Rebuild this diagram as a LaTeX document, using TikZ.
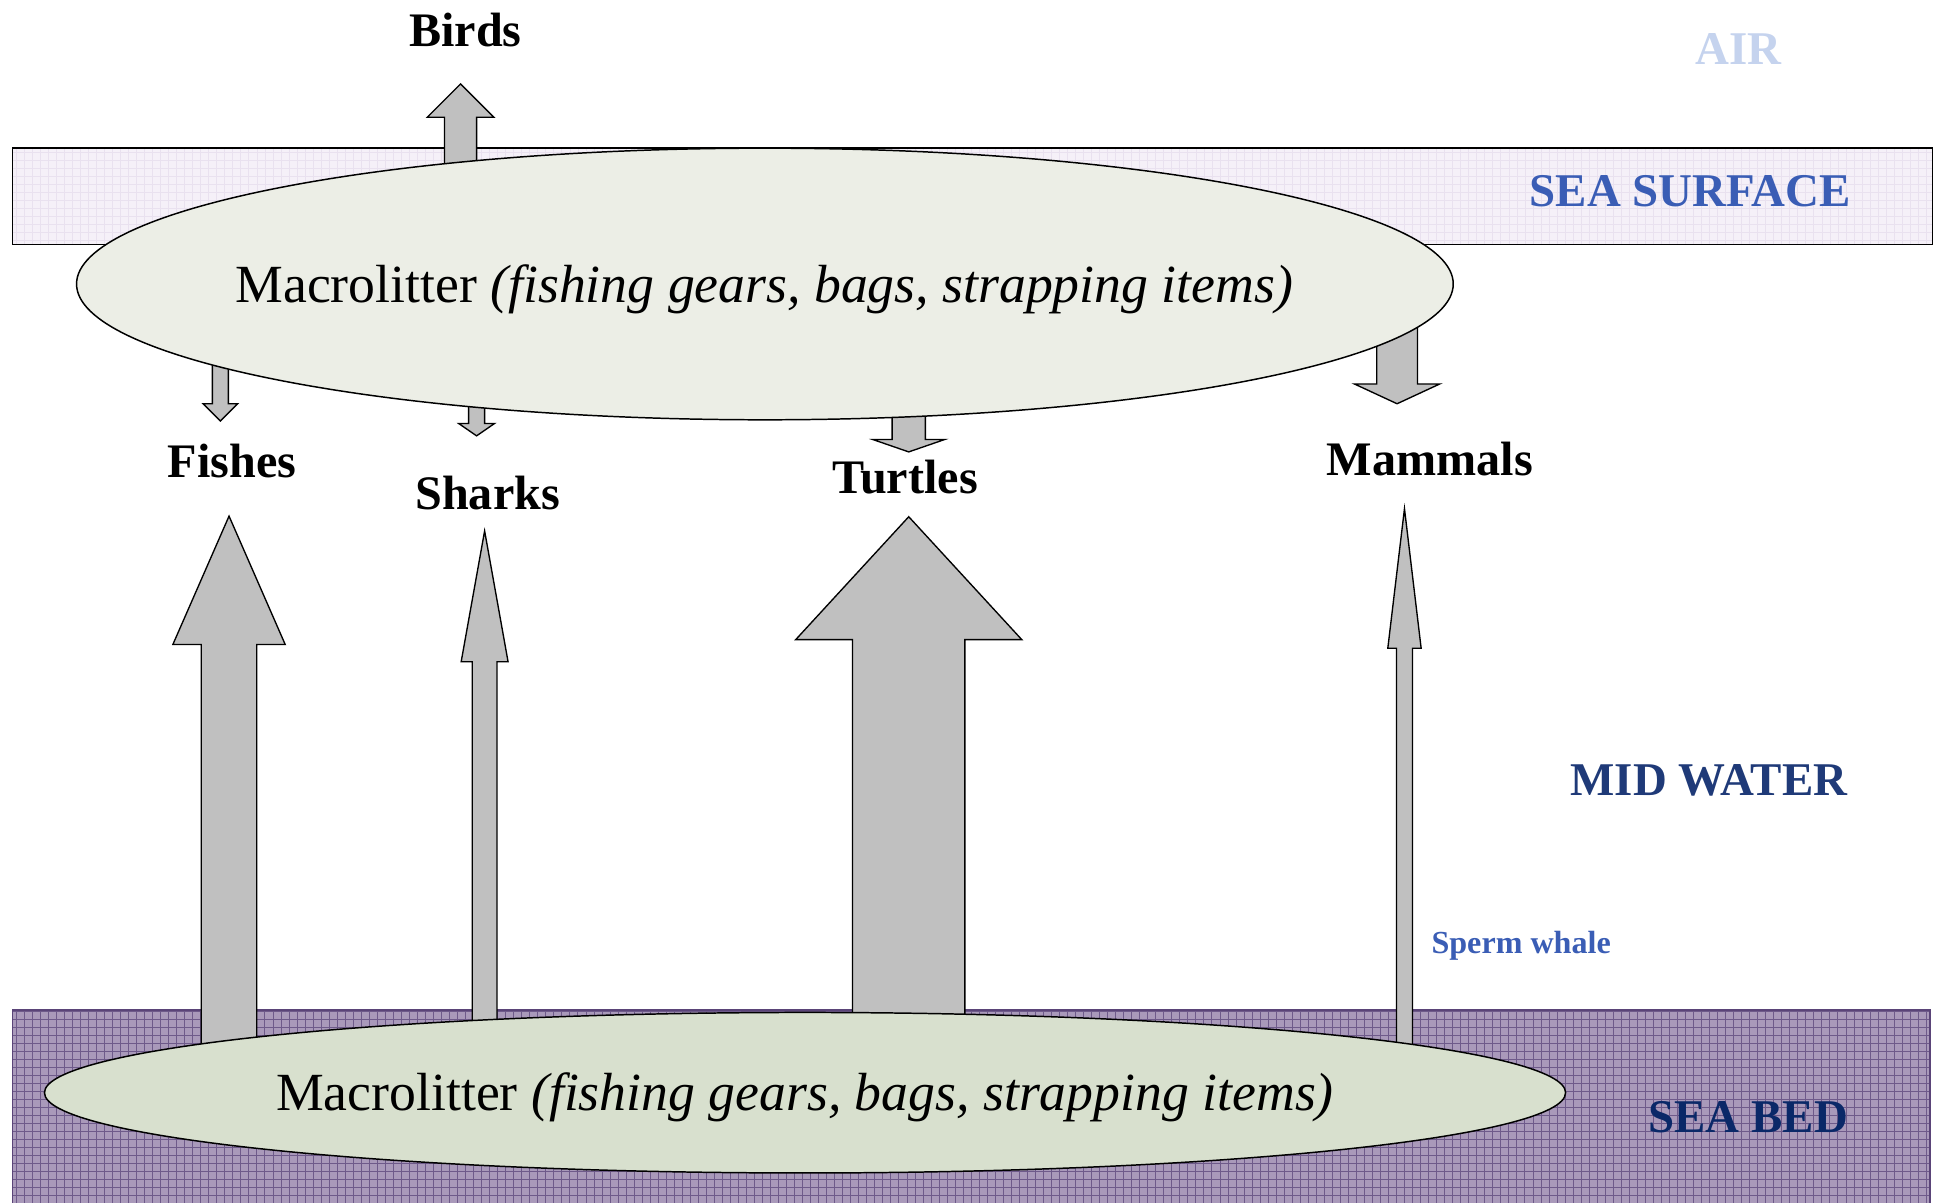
\documentclass[tikz,border=0pt]{standalone}
\usepackage{fontspec}
\setmainfont{Liberation Serif}
\usetikzlibrary{shapes.geometric}
\definecolor{surffill}{HTML}{F5F0F8}
\definecolor{surfgrid}{HTML}{E9E1EF}
\definecolor{bedfill}{HTML}{A999BA}
\definecolor{bedgrid}{HTML}{6E5A8A}
\definecolor{bedborder}{HTML}{5A4478}
\definecolor{ellA}{HTML}{ECEEE6}
\definecolor{ellB}{HTML}{D8E0CE}
\definecolor{arrfill}{HTML}{C0C0C0}
\definecolor{airblue}{HTML}{C5D3EE}
\definecolor{surfblue}{HTML}{3A5DB5}
\definecolor{midnavy}{HTML}{1F3A78}
\definecolor{bednavy}{HTML}{0A2868}
\newcommand\blockup[6]{% cx, shaft half, head half, tip y, base y, bottom y
  \filldraw[blockarr] ({#1-#2},#6) -- ({#1-#2},#5) -- ({#1-#3},#5) -- (#1,#4)
    -- ({#1+#3},#5) -- ({#1+#2},#5) -- ({#1+#2},#6) -- cycle;}
\begin{document}
\begin{tikzpicture}[x=1pt,y=-1pt,
  blockarr/.style={fill=arrfill,draw=black,line width=1.1pt,line join=miter},
  animal/.style={font=\fontsize{39}{39}\selectfont\bfseries,inner sep=0pt},
  zone/.style={font=\fontsize{38}{38}\selectfont\bfseries,inner sep=0pt},
  littertext/.style={font=\fontsize{43.5}{43.5}\selectfont,inner sep=0pt},
  litter/.style={ellipse,draw=black,line width=1.2pt,inner sep=0pt}]
\useasboundingbox (0,0) rectangle (1568,974);
\fill[white] (0,0) rectangle (1568,974);
% sea surface band
\fill[surffill] (10,120) rectangle (1565,198);
\begin{scope}
\clip (10,120) rectangle (1565,198);
\draw[surfgrid,line width=0.5pt,step=6.5pt] (10,120) grid (1566,199);
\end{scope}
\draw[black,line width=1.3pt] (10,120) rectangle (1565,198);
% sea bed
\fill[bedfill] (10,818) rectangle (1563,980);
\begin{scope}
\clip (10,818) rectangle (1563,980);
\draw[bedgrid,line width=0.6pt,step=6.5pt] (10,818) grid (1564,981);
\end{scope}
\draw[bedborder,line width=1.3pt] (10,980) -- (10,818) -- (1563,818) -- (1563,980);
% zone labels
\node[zone,text=airblue] (air) at (1408,40) {AIR};
\node[zone,text=surfblue] (surf) at (1369,155) {SEA SURFACE};
\node[zone,text=midnavy] (mid) at (1384,632) {MID WATER};
\node[zone,text=bednavy] (bed) at (1416,905) {SEA BED};
\node[font=\fontsize{26}{26}\selectfont\bfseries,text=surfblue,inner sep=0pt] (sperm) at (1232,766) {Sperm whale};
% arrows from top litter
\blockup{373}{13}{27}{68}{95}{160}
\blockup{178.5}{6.5}{14}{341}{327}{280}
\blockup{386}{6.5}{14.5}{353}{343}{310}
\blockup{736}{13.5}{29}{366}{356}{320}
\blockup{1131.5}{16.5}{34.5}{327}{311}{250}
% arrows from bottom litter
\blockup{185.5}{22.5}{45.5}{418}{522}{870}
\blockup{392.5}{10}{19}{430}{536}{870}
\blockup{736}{45.5}{91.5}{418.5}{518}{870}
\blockup{1137.5}{6.5}{13.5}{412}{525}{870}
% litter ellipses
\node[litter,fill=ellA,minimum width=1115pt,minimum height=220pt] (topml) at (619.5,230) {};
\node[littertext] (toptxt) at (619,234) {Macrolitter \textit{(fishing gears, bags, strapping items)}};
\node[litter,fill=ellB,minimum width=1232pt,minimum height=130pt] (botml) at (652,885) {};
\node[littertext] (bottxt) at (652,889) {Macrolitter \textit{(fishing gears, bags, strapping items)}};
% animal labels
\node[animal] (birds) at (377,24) {Birds};
\node[animal] (fishes) at (188,373) {Fishes};
\node[animal] (sharks) at (395,399) {Sharks};
\node[animal] (turtles) at (733,386) {Turtles};
\node[animal] (mammals) at (1158,372) {Mammals};
\end{tikzpicture}
\end{document}
